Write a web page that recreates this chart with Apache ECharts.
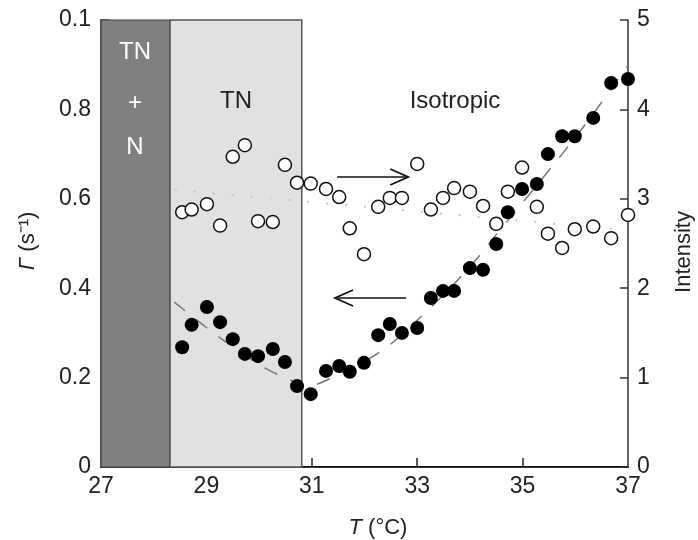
<!DOCTYPE html>
<html>
<head>
<meta charset="utf-8">
<script src="https://cdn.jsdelivr.net/npm/echarts@6/dist/echarts.min.js"></script>
<style>
html,body{margin:0;padding:0;background:#fff;}
#chart{width:698px;height:540px;}
</style>
</head>
<body>
<div id="chart"></div>
<script>
// ---- data ----
const temps = [28.54, 28.72, 29.01, 29.26, 29.50, 29.73, 29.98, 30.26, 30.49, 30.72, 30.98, 31.27, 31.52, 31.72, 31.99, 32.26, 32.48, 32.71, 33.00, 33.26, 33.49, 33.70, 34.00, 34.25, 34.50, 34.72, 34.99, 35.27, 35.48, 35.75, 35.99, 36.34, 36.68, 37.00];
const gamma = [0.268, 0.318, 0.358, 0.324, 0.286, 0.253, 0.248, 0.264, 0.235, 0.181, 0.163, 0.215, 0.226, 0.213, 0.233, 0.295, 0.320, 0.300, 0.311, 0.378, 0.394, 0.394, 0.445, 0.441, 0.499, 0.570, 0.622, 0.633, 0.700, 0.740, 0.740, 0.781, 0.859, 0.868];
const intensity = [2.85, 2.88, 2.94, 2.70, 3.47, 3.60, 2.75, 2.74, 3.38, 3.18, 3.17, 3.11, 3.02, 2.67, 2.38, 2.91, 3.01, 3.01, 3.39, 2.88, 3.01, 3.12, 3.08, 2.92, 2.72, 3.08, 3.35, 2.91, 2.61, 2.45, 2.66, 2.69, 2.56, 2.82];
// dashed fit curves for Gamma
const fitLowT = [28.39, 29.11, 29.45, 30.15, 30.80];
const fitLowG = [0.369, 0.302, 0.273, 0.219, 0.185];
const fitHighT = [31.10, 32.26, 33.20, 34.06, 34.57, 35.20, 36.18, 37.00];
const fitHighG = [0.185, 0.255, 0.351, 0.456, 0.530, 0.620, 0.765, 0.899];
// faint dotted trend of intensity
const trendT = [28.40, 36.80];
const trendI = [3.10, 2.66];
// phase regions
const phaseBounds = [27, 28.31, 30.81, 37];
// axis ticks
const xTicks = [27, 29, 31, 33, 35, 37];
const leftTickLabels = ['0', '0.2', '0.4', '0.6', '0.8', '0.1'];
const rightTicks = [0, 1, 2, 3, 4, 5];
// arrows: [x0, x1, y] in data units
const arrowRight = [31.48, 32.83, 3.244]; // on intensity axis
const arrowLeft = [32.79, 31.44, 0.378];  // on Gamma axis

const FONT = 'Liberation Sans, Arial, Helvetica, sans-serif';
const chart = echarts.init(document.getElementById('chart'), null, {renderer: 'canvas'});

const zip = (a, b) => a.map((v, i) => [v, b[i]]);

const option = {
  animation: false,
  backgroundColor: '#fff',
  grid: {left: 101, right: 70, top: 20, bottom: 73, show: false},
  xAxis: [{
    type: 'value', min: 27, max: 37, interval: 2,
    axisLine: {show: true, onZero: false, lineStyle: {color: '#111', width: 2}},
    axisTick: {show: true, inside: true, length: 9, lineStyle: {color: '#222', width: 1.5},
      customValues: [29, 31, 33, 35]},
    axisLabel: {color: '#222', fontSize: 23, fontFamily: FONT, margin: 8,
      customValues: xTicks, formatter: v => String(v)},
    splitLine: {show: false}
  }, {
    type: 'value', min: 27, max: 37, position: 'top',
    axisLine: {show: true, lineStyle: {color: '#333', width: 1.2}},
    axisTick: {show: false}, axisLabel: {show: false}, splitLine: {show: false}
  }],
  yAxis: [{
    type: 'value', min: 0, max: 1, interval: 0.2, position: 'left',
    axisLine: {show: true, onZero: false, lineStyle: {color: '#333', width: 1.5}},
    axisTick: {show: true, inside: true, length: 8, lineStyle: {color: '#333', width: 1.5}},
    axisLabel: {color: '#222', fontSize: 23, fontFamily: FONT, margin: 10,
      formatter: (v) => leftTickLabels[Math.round(v / 0.2)]},
    splitLine: {show: false}
  }, {
    type: 'value', min: 0, max: 5, interval: 1, position: 'right',
    axisLine: {show: true, onZero: false, lineStyle: {color: '#333', width: 1.5}},
    axisTick: {show: true, inside: true, length: 8, lineStyle: {color: '#333', width: 1.5}},
    axisLabel: {color: '#222', fontSize: 23, fontFamily: FONT, margin: 9,
      formatter: v => rightTicks.includes(v) ? String(v) : ''},
    splitLine: {show: false}
  }],
  series: [
    {
      type: 'line', xAxisIndex: 0, yAxisIndex: 0, data: [], z: 0, silent: true,
      markArea: {
        silent: true,
        data: [
          [{xAxis: phaseBounds[0], yAxis: 0, itemStyle: {color: '#808080', borderColor: '#444', borderWidth: 1.2}},
           {xAxis: phaseBounds[1], yAxis: 1}],
          [{xAxis: phaseBounds[1], yAxis: 0, itemStyle: {color: '#e1e1e1', borderColor: '#555', borderWidth: 1.5}},
           {xAxis: phaseBounds[2], yAxis: 1}]
        ]
      }
    },
    {
      name: 'trend', type: 'line', xAxisIndex: 0, yAxisIndex: 1,
      data: zip(trendT, trendI), showSymbol: false, z: 1, silent: true,
      lineStyle: {color: '#c4c4c4', width: 2, type: [2, 17]}
    },
    {
      name: 'fitLow', type: 'line', xAxisIndex: 0, yAxisIndex: 0, smooth: 0.4,
      data: zip(fitLowT, fitLowG), showSymbol: false, z: 2, silent: true,
      lineStyle: {color: '#777', width: 1.5, type: [14, 14]}
    },
    {
      name: 'fitHigh', type: 'line', xAxisIndex: 0, yAxisIndex: 0, smooth: 0.4,
      data: zip(fitHighT, fitHighG), showSymbol: false, z: 2, silent: true,
      lineStyle: {color: '#777', width: 1.5, type: [14, 14]}
    },
    {
      name: 'Intensity', type: 'scatter', xAxisIndex: 0, yAxisIndex: 1,
      data: zip(temps, intensity), symbol: 'circle', symbolSize: 13, clip: false, z: 3,
      itemStyle: {color: '#fff', borderColor: '#111', borderWidth: 1.5, opacity: 1}
    },
    {
      name: 'Gamma', type: 'scatter', xAxisIndex: 0, yAxisIndex: 0,
      data: zip(temps, gamma), symbol: 'circle', symbolSize: 14, clip: false, z: 4,
      itemStyle: {color: '#000', borderColor: '#000', borderWidth: 0, opacity: 1}
    }
  ]
};
chart.setOption(option);

function arrow(p0, p1) {
  const dir = p1[0] > p0[0] ? 1 : -1;
  const tip = p1;
  const hl = 18, hh = 8;
  return [
    {type: 'line', shape: {x1: p0[0], y1: p0[1], x2: p1[0] - dir * 1, y2: p1[1]},
     style: {stroke: '#111', lineWidth: 1.5}, z: 10},
    {type: 'polyline', shape: {points: [[tip[0] - dir * hl, tip[1] - hh], [tip[0], tip[1]], [tip[0] - dir * hl, tip[1] + hh]]},
     style: {stroke: '#111', lineWidth: 1.8, fill: null}, z: 10}
  ];
}
const rA0 = chart.convertToPixel({xAxisIndex: 0, yAxisIndex: 1}, [arrowRight[0], arrowRight[2]]);
const rA1 = chart.convertToPixel({xAxisIndex: 0, yAxisIndex: 1}, [arrowRight[1], arrowRight[2]]);
const lA0 = chart.convertToPixel({xAxisIndex: 0, yAxisIndex: 0}, [arrowLeft[0], arrowLeft[2]]);
const lA1 = chart.convertToPixel({xAxisIndex: 0, yAxisIndex: 0}, [arrowLeft[1], arrowLeft[2]]);

const txt = (x, y, text, opts) => Object.assign({
  type: 'text', x: x, y: y, z: 20,
  style: Object.assign({text: text, fill: '#222', font: '23px ' + FONT, align: 'center', verticalAlign: 'middle'}, opts || {})
});

chart.setOption({
  graphic: [].concat(
    arrow(rA0, rA1),
    arrow(lA0, lA1),
    [
      txt(135, 52, 'TN', {fill: '#fff', font: '24px ' + FONT}),
      txt(135, 103, '+', {fill: '#fff', font: '24px ' + FONT}),
      txt(135, 147, 'N', {fill: '#fff', font: '24px ' + FONT}),
      txt(236, 101, 'TN', {font: '24px ' + FONT}),
      txt(455, 101, 'Isotropic', {font: '24px ' + FONT}),
      {
        type: 'text', x: 378, y: 528, z: 20,
        style: {
          text: '{i|T} (°C)', fill: '#222', font: '22px ' + FONT, align: 'center', verticalAlign: 'middle',
          rich: {i: {fontStyle: 'italic', fontSize: 22, fontFamily: FONT, fill: '#222'}}
        }
      },
      {
        type: 'text', x: 28, y: 241, rotation: Math.PI / 2, z: 20,
        style: {
          text: '{i|Γ} (s⁻¹)', fill: '#222', font: '22px ' + FONT, align: 'center', verticalAlign: 'middle',
          rich: {i: {fontStyle: 'italic', fontSize: 22, fontFamily: FONT, fill: '#222'}}
        }
      },
      {
        type: 'text', x: 684, y: 252, rotation: Math.PI / 2, z: 20,
        style: {text: 'Intensity', fill: '#222', font: '22px ' + FONT, align: 'center', verticalAlign: 'middle'}
      }
    ]
  )
});
</script>
</body>
</html>
